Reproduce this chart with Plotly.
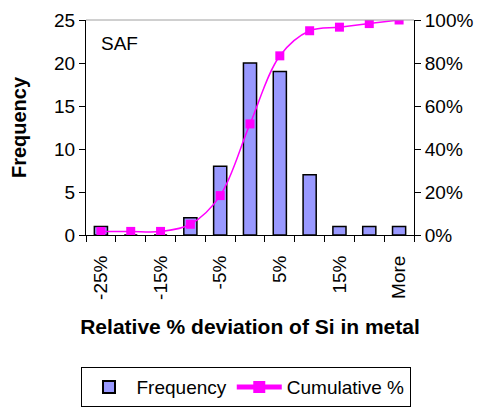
import plotly.graph_objects as go

categories = ["-25%", "-20%", "-15%", "-10%", "-5%", "0%", "5%", "10%", "15%", "20%", "More"]
frequency = [1, 0, 0, 2, 8, 20, 19, 7, 1, 1, 1]
cumulative = [1.67, 1.67, 1.67, 5.0, 18.33, 51.67, 83.33, 95.0, 96.67, 98.33, 100.0]

xpos = list(range(len(categories)))
cum_frac = [c / 100 for c in cumulative]

FONT = "Liberation Sans, Arial, sans-serif"

fig = go.Figure()
fig.add_trace(go.Bar(
    x=xpos, y=frequency, name="Frequency", width=0.44,
    marker=dict(color="#9999FF", line=dict(color="black", width=1.5)),
))
fig.add_trace(go.Scatter(
    x=xpos, y=cum_frac, name="Cumulative %", yaxis="y2",
    mode="lines+markers", line=dict(color="#FF00FF", width=1.5, shape="spline"),
    marker=dict(symbol="square", size=9, color="#FF00FF"),
))

fig.update_layout(
    width=491, height=414,
    margin=dict(l=86, r=77, t=20, b=179, autoexpand=False),
    paper_bgcolor="white", plot_bgcolor="white",
    font=dict(family=FONT, size=18, color="black"),
    showlegend=True,
    legend=dict(orientation="h", xref="container", yref="container",
                x=0.5, xanchor="center", y=0.065, yanchor="middle",
                bordercolor="black", borderwidth=1, font=dict(size=19),
                itemwidth=45, itemsizing="constant", tracegroupgap=10),
    xaxis=dict(
        range=[-0.5, len(categories) - 0.5],
        tickvals=xpos[::2], ticktext=categories[::2],
        tickangle=-90, ticks="", showgrid=False, zeroline=False,
        showline=True, linecolor="black", linewidth=1,
        ticklabelstandoff=12, automargin=False,
        minor=dict(tickvals=[i - 0.5 for i in range(len(categories) + 1)],
                   ticks="outside", ticklen=6, tickcolor="black", showgrid=False),
        title=dict(text="<b>Relative % deviation of Si in metal</b>", font=dict(size=21), standoff=20),
        tickfont=dict(size=19),
    ),
    yaxis=dict(
        range=[0, 25], dtick=5, ticks="outside", ticklen=6, tickcolor="black",
        showgrid=False, zeroline=False, showline=True, linecolor="black", linewidth=1,
        automargin=False,
        title=dict(text="<b>Frequency</b>", font=dict(size=20), standoff=22),
        tickfont=dict(size=19),
    ),
    yaxis2=dict(
        range=[0, 1], dtick=0.2, tickformat=".0%", overlaying="y", side="right",
        ticks="outside", ticklen=6, tickcolor="black", showgrid=False, zeroline=False,
        showline=True, linecolor="black", linewidth=1, tickfont=dict(size=19),
        automargin=False,
    ),
    annotations=[dict(text="SAF", x=0.04, y=0.89, xref="paper", yref="paper",
                      xanchor="left", yanchor="middle", showarrow=False,
                      font=dict(size=19))],
    shapes=[dict(type="line", xref="paper", yref="paper", x0=0, x1=1, y0=1, y1=1,
                 line=dict(color="#A0A0A0", width=1))],
)

fig.write_html("out.html")
